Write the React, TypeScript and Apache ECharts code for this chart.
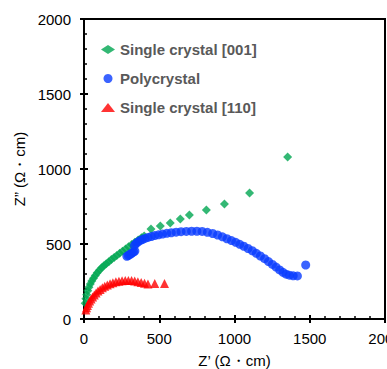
import React, { useEffect, useRef } from "react";
import * as echarts from "echarts";

const seriesNames = ["Single crystal [001]", "Polycrystal", "Single crystal [110]"];
const seriesColors = ["#00A651", "#0A3CFF", "#FF0000"];

const xTickValues = [0, 500, 1000, 1500, 2000];
const yTickValues = [0, 500, 1000, 1500, 2000];

// Single crystal [001]
const s001X = [8, 12, 18, 25, 33, 42, 52, 63, 75, 88, 102, 117, 132, 148, 165, 182, 200, 218, 237, 256, 276, 296, 317, 338, 360, 382, 400, 445, 507, 573, 640, 700, 813, 933, 1100, 1353];
const s001Y = [105, 135, 162, 188, 211, 233, 253, 272, 290, 308, 325, 341, 355, 368, 382, 396, 410, 424, 438, 452, 467, 482, 497, 512, 527, 541, 553, 600, 620, 640, 667, 693, 727, 767, 840, 1080];

// Polycrystal
const polyX = [285, 294, 303, 312, 321, 330, 338, 335, 345, 358, 372, 388, 405, 425, 447, 470, 495, 522, 550, 580, 612, 645, 680, 715, 750, 785, 820, 855, 888, 920, 950, 980, 1008, 1035, 1062, 1090, 1118, 1145, 1172, 1200, 1226, 1252, 1276, 1300, 1322, 1343, 1365, 1390, 1418, 1473];
const polyY = [418, 423, 429, 435, 441, 447, 453, 490, 503, 513, 522, 530, 537, 544, 550, 556, 561, 566, 571, 575, 579, 582, 584, 585, 585, 584, 578, 570, 560, 548, 535, 523, 511, 498, 485, 470, 455, 438, 420, 402, 383, 364, 346, 327, 311, 299, 292, 288, 287, 360];

// Single crystal [110]
const s110X = [12, 17, 23, 30, 38, 47, 57, 68, 80, 93, 107, 122, 138, 155, 173, 192, 212, 232, 253, 274, 295, 316, 337, 358, 380, 402, 425, 470, 535];
const s110Y = [60, 75, 90, 105, 120, 134, 147, 160, 173, 186, 197, 208, 218, 227, 235, 242, 248, 252, 255, 257, 257, 256, 253, 249, 244, 239, 234, 236, 236];

const xName = "Z\u2019 (\u03A9\u30FBcm)";
const yName = "Z\u201D (\u03A9\u30FBcm)";

const FONT = "'Liberation Sans', Arial, sans-serif";

function zip(xs: number[], ys: number[]) {
  return xs.map((x, i) => [x, ys[i]]);
}

export default function App() {
  const ref = useRef<HTMLDivElement>(null);
  useEffect(() => {
    document.body.style.margin = "0";
    if (!ref.current) return;
    const chart = echarts.init(ref.current, undefined, { renderer: "svg" });
    const tickLine = { color: "#000", width: 2 };
    const baseAxis = (min: number, max: number) => ({
      type: "value" as const,
      min,
      max,
      interval: 500,
      splitLine: { show: false },
    });
    const fmt = (v: number) => String(v);
    chart.setOption({
      animation: false,
      grid: {
        left: 84,
        top: 19,
        right: 2,
        bottom: 50,
        show: true,
        borderColor: "#000",
        borderWidth: 2,
        containLabel: false,
        outerBoundsMode: "none",
      },
      legend: {
        orient: "vertical",
        left: 96,
        top: 37,
        itemWidth: 14,
        itemHeight: 9,
        itemGap: 14,
        data: seriesNames,
        textStyle: { fontSize: 15, fontWeight: "bold", color: "#595959", fontFamily: FONT },
      },
      xAxis: [
        {
          ...baseAxis(xTickValues[0], xTickValues[xTickValues.length - 1]),
          position: "bottom",
          name: xName,
          nameLocation: "middle",
          nameGap: 34,
          nameTextStyle: { fontSize: 15, color: "#000", fontFamily: FONT },
          axisLine: { show: true, lineStyle: { color: "#000", width: 2 } },
          axisTick: { show: true, inside: false, length: 4, lineStyle: tickLine },
          minorTick: { show: false },
          axisLabel: { fontSize: 15, color: "#000", margin: 12, fontFamily: FONT, formatter: fmt },
        },
        {
          ...baseAxis(xTickValues[0], xTickValues[xTickValues.length - 1]),
          position: "bottom",
          axisLine: { show: false },
          axisTick: { show: true, inside: true, length: 4, lineStyle: tickLine },
          minorTick: { show: true, splitNumber: 5, length: 3, lineStyle: { color: "#000", width: 1.5 } },
          axisLabel: { show: false },
        },
      ],
      yAxis: [
        {
          ...baseAxis(yTickValues[0], yTickValues[yTickValues.length - 1]),
          position: "left",
          name: yName,
          nameLocation: "middle",
          nameGap: 47,
          nameTextStyle: { fontSize: 15, color: "#000", fontFamily: FONT },
          axisLine: { show: true, lineStyle: { color: "#000", width: 2 } },
          axisTick: { show: true, inside: false, length: 4, lineStyle: tickLine },
          minorTick: { show: false },
          axisLabel: { fontSize: 15, color: "#000", margin: 13, fontFamily: FONT, formatter: fmt },
        },
        {
          ...baseAxis(yTickValues[0], yTickValues[yTickValues.length - 1]),
          position: "left",
          axisLine: { show: false },
          axisTick: { show: true, inside: true, length: 4, lineStyle: tickLine },
          minorTick: { show: true, splitNumber: 5, length: 3, lineStyle: { color: "#000", width: 1.5 } },
          axisLabel: { show: false },
        },
      ],
      series: [
        {
          name: seriesNames[0],
          type: "scatter",
          symbol: "diamond",
          symbolSize: 9,
          itemStyle: { color: seriesColors[0] },
          data: zip(s001X, s001Y),
        },
        {
          name: seriesNames[1],
          type: "scatter",
          symbol: "circle",
          symbolSize: 9,
          itemStyle: { color: seriesColors[1] },
          data: zip(polyX, polyY),
        },
        {
          name: seriesNames[2],
          type: "scatter",
          symbol: "triangle",
          symbolSize: 9,
          itemStyle: { color: seriesColors[2] },
          data: zip(s110X, s110Y),
        },
      ],
    });
    return () => chart.dispose();
  }, []);
  return <div ref={ref} style={{ width: 387, height: 369 }} />;
}
